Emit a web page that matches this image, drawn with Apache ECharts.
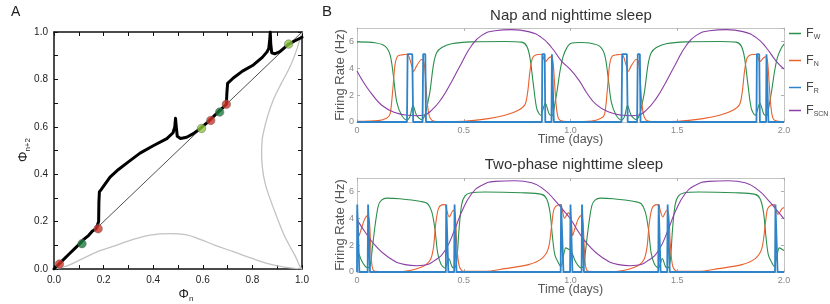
<!DOCTYPE html>
<html><head><meta charset="utf-8">
<script src="https://cdn.jsdelivr.net/npm/echarts@6/dist/echarts.min.js"></script>
<style>html,body{margin:0;padding:0;background:#fff}#c{width:830px;height:304px}</style>
</head><body><div id="c"></div>
<script>
// ---------- Panel A data ----------
const diagLine = [[0,0],[1,1]];
const mapCurve = [[0,0],[0.03,0.031],[0.06,0.062],[0.1,0.103],[0.12,0.125],[0.14,0.142],[0.155,0.16],[0.17,0.17],[0.178,0.175],[0.18,0.2],[0.181,0.28],[0.183,0.325],[0.19,0.335],[0.2,0.35],[0.226,0.388],[0.26,0.42],[0.3,0.452],[0.347,0.489],[0.4,0.52],[0.455,0.55],[0.48,0.575],[0.487,0.6],[0.49,0.636],[0.493,0.6],[0.497,0.56],[0.51,0.551],[0.535,0.556],[0.56,0.57],[0.589,0.592],[0.62,0.62],[0.65,0.65],[0.68,0.68],[0.695,0.695],[0.697,0.74],[0.7,0.783],[0.723,0.806],[0.76,0.835],[0.804,0.861],[0.84,0.893],[0.858,0.915],[0.866,0.93],[0.87,0.97],[0.872,1.0],[0.874,0.95],[0.878,0.912],[0.89,0.908],[0.911,0.917],[0.945,0.948],[0.97,0.962],[1.0,0.978]];
const grayBottom = [[0,0],[0.05,0.012],[0.118,0.045],[0.18,0.075],[0.253,0.101],[0.32,0.125],[0.387,0.143],[0.47,0.149],[0.53,0.145],[0.589,0.125],[0.65,0.1],[0.723,0.073],[0.79,0.048],[0.858,0.024],[0.93,0.008],[1,0]];
const grayRight = [[1,0],[0.992,0.01],[0.975,0.05],[0.952,0.094],[0.925,0.15],[0.898,0.221],[0.87,0.3],[0.851,0.362],[0.84,0.43],[0.837,0.495],[0.84,0.55],[0.844,0.573],[0.86,0.64],[0.884,0.713],[0.915,0.78],[0.952,0.854],[0.98,0.93],[1,1]];
const redPts = [[0.022,0.021],[0.178,0.17],[0.632,0.627],[0.695,0.695]];
const darkGreenPts = [[0.113,0.107],[0.668,0.662]];
const lightGreenPts = [[0.595,0.593],[0.946,0.949]];
const tickLabelsA = ['0.0','0.2','0.4','0.6','0.8','1.0'];

// ---------- Panel B data (time in days, rate in Hz) ----------
const napW = [[0,5.97],[0.084,5.9],[0.131,5.65],[0.155,5.0],[0.17,3.5],[0.186,1.5],[0.209,0.5],[0.233,0.15],[0.248,0.4],[0.262,1.25],[0.279,0.5],[0.303,0.17],[0.318,0.5],[0.326,1.0],[0.342,2.3],[0.358,4.25],[0.373,5.15],[0.397,5.55],[0.443,5.83],[0.537,5.97],[0.693,6.0],[0.771,5.95],[0.795,5.65],[0.81,4.8],[0.826,2.8],[0.842,1.0],[0.86,0.5],[0.882,1.4],[0.9,0.6],[0.914,0.45],[0.925,1.2],[0.938,2.4],[0.951,3.8],[0.966,4.9],[0.982,5.5],[1.0,5.85],
  [1.05,5.92],[1.09,5.88],[1.136,5.65],[1.16,5.0],[1.175,3.5],[1.191,1.5],[1.214,0.5],[1.238,0.15],[1.253,0.4],[1.267,1.25],[1.284,0.5],[1.308,0.17],[1.323,0.5],[1.331,1.0],[1.347,2.3],[1.363,4.25],[1.378,5.15],[1.402,5.55],[1.448,5.83],[1.542,5.97],[1.698,6.0],[1.776,5.95],[1.8,5.65],[1.815,4.8],[1.831,2.8],[1.847,1.0],[1.865,0.5],[1.887,1.4],[1.905,0.6],[1.919,0.45],[1.93,1.2],[1.943,2.4],[1.956,3.8],[1.971,4.9],[1.987,5.5],[2.0,5.8]];
const napN = [[0,0.05],[0.1,0.1],[0.14,0.3],[0.155,0.6],[0.167,2.3],[0.178,4.25],[0.19,4.9],[0.21,5.0],[0.236,5.05],[0.245,4.8],[0.256,4.2],[0.265,3.77],[0.28,4.2],[0.303,4.65],[0.313,4.5],[0.32,3.5],[0.328,1.6],[0.338,0.5],[0.355,0.1],[0.4,0.03],[0.5,0.05],[0.615,0.25],[0.693,0.5],[0.756,0.88],[0.787,1.3],[0.8,2.3],[0.81,3.77],[0.822,4.77],[0.84,5.0],[0.866,5.05],[0.875,4.7],[0.883,4.5],[0.897,4.75],[0.91,4.85],[0.918,4.5],[0.925,3.0],[0.933,1.25],[0.944,0.25],[0.966,0.05],[1.0,0.03],
  [1.1,0.08],[1.145,0.3],[1.16,0.6],[1.172,2.3],[1.183,4.25],[1.195,4.9],[1.215,5.0],[1.241,5.05],[1.25,4.8],[1.261,4.2],[1.27,3.77],[1.285,4.2],[1.308,4.65],[1.318,4.5],[1.325,3.5],[1.333,1.6],[1.343,0.5],[1.36,0.1],[1.405,0.03],[1.505,0.05],[1.62,0.25],[1.698,0.5],[1.761,0.88],[1.792,1.3],[1.805,2.3],[1.815,3.77],[1.827,4.77],[1.845,5.0],[1.871,5.05],[1.88,4.7],[1.888,4.5],[1.902,4.75],[1.915,4.85],[1.923,4.5],[1.93,3.0],[1.938,1.25],[1.949,0.25],[1.971,0.05],[2.0,0.03]];
const napR = [[0,0],[0.234,0],[0.237,5.05],[0.259,5.05],[0.263,0],[0.307,0],[0.31,5.05],[0.32,5.05],[0.323,0],[0.866,0],[0.868,5.05],[0.879,5.05],[0.882,0],[0.911,0],[0.913,5.05],[0.92,5.05],[0.922,0],
  [1.239,0],[1.242,5.05],[1.264,5.05],[1.268,0],[1.312,0],[1.315,5.05],[1.325,5.05],[1.328,0],[1.871,0],[1.873,5.05],[1.884,5.05],[1.887,0],[1.916,0],[1.918,5.05],[1.925,5.05],[1.927,0],[2.0,0]];
const napSCN = [[0,3.8],[0.035,2.85],[0.069,2.1],[0.116,1.25],[0.178,0.7],[0.24,0.5],[0.28,0.47],[0.31,0.5],[0.35,0.88],[0.397,1.76],[0.443,3.0],[0.49,4.4],[0.537,5.7],[0.584,6.45],[0.646,6.8],[0.724,6.88],[0.803,6.73],[0.865,6.28],[0.912,5.53],[0.959,4.52],[1.0,3.9],
  [1.04,3.1],[1.075,2.2],[1.121,1.3],[1.183,0.72],[1.245,0.5],[1.285,0.47],[1.315,0.5],[1.355,0.88],[1.402,1.76],[1.448,3.0],[1.495,4.4],[1.542,5.7],[1.589,6.45],[1.651,6.8],[1.729,6.88],[1.808,6.73],[1.87,6.28],[1.917,5.53],[1.964,4.52],[2.0,3.95]];

const twoW = [[0,1.6],[0.01,1.3],[0.02,0.9],[0.035,0.5],[0.05,0.3],[0.062,0.5],[0.07,1.5],[0.085,3.5],[0.1,4.95],[0.115,5.35],[0.14,5.5],[0.2,5.45],[0.3,5.25],[0.33,5.1],[0.35,4.5],[0.365,3.2],[0.378,1.4],[0.393,0.6],[0.412,0.3],[0.43,1.0],[0.445,0.4],[0.456,0.3],[0.467,0.8],[0.478,3.2],[0.49,5.0],[0.505,5.65],[0.53,5.88],[0.6,5.96],[0.77,5.9],[0.865,5.78],[0.888,5.45],[0.904,4.45],[0.915,2.7],[0.927,1.25],[0.946,0.6],[0.955,0.4],[0.968,1.3],[0.978,1.8],[0.99,1.7],[1.0,1.6],
  [1.01,1.3],[1.02,0.9],[1.035,0.5],[1.05,0.3],[1.062,0.5],[1.07,1.5],[1.085,3.5],[1.1,4.95],[1.115,5.35],[1.14,5.5],[1.2,5.45],[1.3,5.25],[1.33,5.1],[1.35,4.5],[1.365,3.2],[1.378,1.4],[1.393,0.6],[1.412,0.3],[1.43,1.0],[1.445,0.4],[1.456,0.3],[1.467,0.8],[1.478,3.2],[1.49,5.0],[1.505,5.65],[1.53,5.88],[1.6,5.96],[1.77,5.9],[1.865,5.78],[1.888,5.45],[1.904,4.45],[1.915,2.7],[1.927,1.25],[1.946,0.6],[1.955,0.4],[1.968,1.3],[1.978,1.8],[1.99,1.7],[2.0,1.6]];
const twoN = [[0,4.2],[0.004,3.8],[0.01,2.7],[0.02,3.2],[0.035,3.9],[0.05,4.2],[0.058,3.8],[0.064,2.0],[0.071,0.4],[0.085,0.05],[0.2,0.02],[0.3,0.35],[0.342,0.87],[0.358,1.8],[0.368,3.5],[0.381,4.7],[0.397,5.0],[0.413,5.02],[0.42,4.6],[0.432,4.1],[0.451,4.6],[0.46,4.3],[0.467,2.2],[0.478,0.5],[0.498,0.05],[0.6,0.05],[0.693,0.25],[0.803,0.55],[0.865,1.0],[0.896,1.74],[0.912,3.5],[0.923,4.7],[0.943,5.0],[0.954,5.02],[0.962,4.6],[0.972,4.0],[0.99,4.4],[1.0,4.2],
  [1.004,3.8],[1.01,2.7],[1.02,3.2],[1.035,3.9],[1.05,4.2],[1.058,3.8],[1.064,2.0],[1.071,0.4],[1.085,0.05],[1.2,0.02],[1.3,0.35],[1.342,0.87],[1.358,1.8],[1.368,3.5],[1.381,4.7],[1.397,5.0],[1.413,5.02],[1.42,4.6],[1.432,4.1],[1.451,4.6],[1.46,4.3],[1.467,2.2],[1.478,0.5],[1.498,0.05],[1.6,0.05],[1.693,0.25],[1.803,0.55],[1.865,1.0],[1.896,1.74],[1.912,3.5],[1.923,4.7],[1.943,5.0],[1.954,5.02],[1.962,4.6],[1.972,4.3],[1.99,4.7],[2.0,4.8]];
const twoR = [[0,0],[0.001,5.02],[0.008,5.02],[0.011,0],[0.05,0],[0.052,5.02],[0.058,5.02],[0.061,0],[0.416,0],[0.418,5.02],[0.425,5.02],[0.428,0],[0.455,0],[0.457,5.02],[0.463,5.02],[0.466,0],[0.954,0],[0.956,5.02],[0.964,5.02],[0.967,0],
  [0.998,0],[1.0,5.02],[1.006,5.02],[1.009,0],[1.052,0],[1.054,5.02],[1.06,5.02],[1.063,0],[1.411,0],[1.413,5.02],[1.419,5.02],[1.422,0],[1.453,0],[1.455,5.02],[1.462,5.02],[1.465,0],[1.958,0],[1.96,5.02],[1.967,5.02],[1.97,0],[2.0,0]];
const twoSCN = [[0,3.9],[0.037,3.0],[0.084,2.0],[0.147,1.1],[0.225,0.55],[0.28,0.47],[0.31,0.5],[0.365,0.87],[0.412,1.6],[0.459,3.2],[0.49,4.47],[0.537,5.83],[0.584,6.45],[0.646,6.75],[0.74,6.8],[0.818,6.65],[0.881,6.08],[0.927,5.33],[0.966,4.6],[1.0,3.95],
  [1.037,3.0],[1.084,2.0],[1.147,1.1],[1.225,0.55],[1.28,0.47],[1.31,0.5],[1.365,0.87],[1.412,1.6],[1.459,3.2],[1.49,4.47],[1.537,5.83],[1.584,6.45],[1.646,6.75],[1.74,6.8],[1.818,6.65],[1.881,6.08],[1.927,5.33],[1.966,4.6],[2.0,3.95]];

const titlesB = ['Nap and nighttime sleep', 'Two-phase nighttime sleep'];
const seriesNames = ['FW','FN','FR','FSCN'];
const colors = {FW:'#2a8f4c', FN:'#e8622e', FR:'#2f83c8', FSCN:'#8b3fa6'};

const FONT = 'Liberation Sans, Arial, sans-serif';
const chart = echarts.init(document.getElementById('c'), null, {renderer:'canvas'});

function axA(pos, showLabel){
  return {
    gridIndex:0, type:'value', min:0, max:1, interval:0.1, position:pos,
    axisLine:{show:true, onZero:false, lineStyle:{color:'#111', width:1.5}},
    axisTick:{show:true, inside:true, length:4, lineStyle:{color:'#111', width:1}},
    axisLabel:{show:showLabel, fontSize:10, color:'#222', fontFamily:FONT, margin:6,
      formatter: v => { const k = Math.round(v*10); return k%2===0 ? tickLabelsA[k/2] : ''; }},
    splitLine:{show:false}
  };
}
function axBx(g, pos, showLabel, nameShow){
  return {
    gridIndex:g, type:'value', min:0, max:2, interval:0.5, position:pos,
    axisLine:{show:true, onZero:false, lineStyle:{color:'#c4c4c4', width:1}},
    axisTick:{show:true, inside:true, length:3, lineStyle:{color:'#b0b0b0'}},
    axisLabel:{show:showLabel, fontSize:9, color:'#888', fontFamily:FONT, margin:4,
      formatter: v => v===0 ? '0' : v.toFixed(1)},
    splitLine:{show:false},
    name: nameShow ? 'Time (days)' : '', nameLocation:'middle', nameGap:11, nameMoveOverlap:false,
    nameTextStyle:{fontSize:12.5, color:'#555', fontFamily:FONT, verticalAlign:'top'}
  };
}
function axBy(g, pos, showLabel, nameShow){
  return {
    gridIndex:g, type:'value', min:0, max:7, interval:2, position:pos,
    axisLine:{show:true, onZero:false, lineStyle:{color:'#c4c4c4', width:1}},
    axisTick:{show:true, inside:true, length:3, lineStyle:{color:'#b0b0b0'}},
    axisLabel:{show:showLabel, fontSize:9, color:'#888', fontFamily:FONT, margin:3, showMaxLabel:false},
    splitLine:{show:false},
    name: nameShow ? 'Firing Rate (Hz)' : '', nameLocation:'middle', nameGap:10, nameMoveOverlap:false,
    nameTextStyle:{fontSize:13, color:'#555', fontFamily:FONT}
  };
}

function bSeries(g, data, key){
  const isR = key==='FR';
  const isS = key==='FSCN';
  return {
    name:key, type:'line', xAxisIndex:g+1, yAxisIndex:g+1, data:data,
    symbol:'none', showSymbol:false, smooth: isR ? false : (isS ? 0.5 : 0.3),
    lineStyle:{color:colors[key], width: isR ? 1.8 : 1.1},
    itemStyle:{color:colors[key]}, z: isR ? 4 : 3, silent:true
  };
}

const legendTops = [27, 54, 81, 104];
const legends = seriesNames.map((n, i) => ({
  data:[n], orient:'vertical', left:789, top:legendTops[i], padding:0, icon:'rect', itemWidth:12, itemHeight:1.5, itemGap:0,
  formatter: s => '{f|F}{s|' + s.slice(1) + '}',
  textStyle:{color:'#444', rich:{
    f:{fontSize:12.5, color:'#444', fontFamily:FONT},
    s:{fontSize:7, color:'#444', fontFamily:FONT, padding:[8,0,0,0]}
  }},
  selectedMode:false
}));

const option = {
  animation:false,
  backgroundColor:'#fff',
  textStyle:{fontFamily:FONT},
  grid:[
    {left:54, top:32, width:248, height:237},
    {left:357, top:28, width:427, height:94},
    {left:357, top:178, width:427, height:94}
  ],
  xAxis:[
    axA('bottom',true), axA('top',false),
    axBx(1,'bottom',true,true), axBx(1,'top',false,false),
    axBx(2,'bottom',true,true), axBx(2,'top',false,false)
  ],
  yAxis:[
    axA('left',true), axA('right',false),
    axBy(1,'left',true,true), axBy(1,'right',false,false),
    axBy(2,'left',true,true), axBy(2,'right',false,false)
  ],
  legend: legends,
  graphic:[
    {type:'text', left:11, top:5, style:{text:'A', fontSize:14, fill:'#222', fontFamily:FONT}},
    {type:'text', left:322, top:4, style:{text:'B', fontSize:15, fill:'#222', fontFamily:FONT}},
    {type:'text', x:186, y:294, style:{text:'{a|Φ}{b|n}', align:'center', verticalAlign:'middle',
      rich:{a:{fontSize:13, fill:'#222', fontFamily:FONT}, b:{fontSize:8, fill:'#222', fontFamily:FONT, padding:[9,0,0,0]}}}},
    {type:'text', x:23, y:150, rotation:Math.PI/2, style:{text:'{a|Φ}{b|n+2}', align:'center', verticalAlign:'middle',
      rich:{a:{fontSize:13, fill:'#222', fontFamily:FONT}, b:{fontSize:8, fill:'#222', fontFamily:FONT, padding:[9,0,0,0]}}}},
    {type:'text', x:571, y:16, style:{text:titlesB[0], align:'center', verticalAlign:'middle', fontSize:15, fill:'#333', fontFamily:FONT}},
    {type:'text', x:574, y:165, style:{text:titlesB[1], align:'center', verticalAlign:'middle', fontSize:15, fill:'#333', fontFamily:FONT}}
  ],
  series:[
    {type:'line', xAxisIndex:0, yAxisIndex:0, data:grayBottom, symbol:'none', smooth:0.4, lineStyle:{color:'#c2c2c2', width:1.3}, silent:true},
    {type:'line', xAxisIndex:0, yAxisIndex:0, data:grayRight, symbol:'none', smooth:0.4, lineStyle:{color:'#c2c2c2', width:1.3}, silent:true},
    {type:'line', xAxisIndex:0, yAxisIndex:0, data:diagLine, symbol:'none', lineStyle:{color:'#222', width:0.8}, silent:true},
    {type:'line', xAxisIndex:0, yAxisIndex:0, data:mapCurve, symbol:'none', lineStyle:{color:'#000', width:3, join:'round', cap:'round'}, silent:true, z:3},
    {type:'scatter', xAxisIndex:0, yAxisIndex:0, data:redPts, symbolSize:8.5, itemStyle:{color:'#d0352b', borderColor:'#666', borderWidth:0.6}, z:5, silent:true},
    {type:'scatter', xAxisIndex:0, yAxisIndex:0, data:darkGreenPts, symbolSize:8.5, itemStyle:{color:'#1d7a3c', borderColor:'#666', borderWidth:0.6}, z:5, silent:true},
    {type:'scatter', xAxisIndex:0, yAxisIndex:0, data:lightGreenPts, symbolSize:8.5, itemStyle:{color:'#8cc63f', borderColor:'#666', borderWidth:0.6}, z:5, silent:true},
    bSeries(1, napW, 'FW'), bSeries(1, napN, 'FN'), bSeries(1, napR, 'FR'), bSeries(1, napSCN, 'FSCN'),
    bSeries(3, twoW, 'FW'), bSeries(3, twoN, 'FN'), bSeries(3, twoR, 'FR'), bSeries(3, twoSCN, 'FSCN')
  ]
};
chart.setOption(option);
</script></body></html>
